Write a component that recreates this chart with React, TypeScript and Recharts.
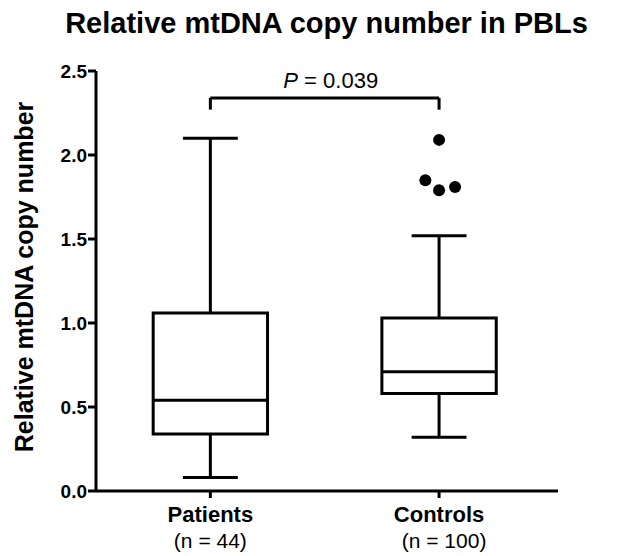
import { ComposedChart, Scatter, XAxis, YAxis, ReferenceArea, ReferenceLine } from "recharts";

// box statistics, one entry per group
const groups = ["Patients", "Controls"];
const groupN = [44, 100];
const whiskerLow = [0.08, 0.32];
const q1 = [0.34, 0.58];
const median = [0.54, 0.71];
const q3 = [1.06, 1.03];
const whiskerHigh = [2.1, 1.52];

// outliers (controls), x carries a small jitter around group 2
const outlierX = [2.0, 1.94, 2.0, 2.07];
const outlierY = [2.09, 1.85, 1.79, 1.81];

const yTicks = [0, 0.5, 1, 1.5, 2, 2.5];
const pValue = "0.039";
const bracketY = 2.34;
const bracketDrop = 0.07;

const FONT = '"Liberation Sans", Arial, Helvetica, sans-serif';
const BOX_HALF = 0.25;
const CAP_HALF = 0.12;
const LINE = { stroke: "#000", strokeWidth: 3 };

const GroupTick = ({ x, y, payload }: any) => {
  const i = Math.round(payload.value) - 1;
  return (
    <g transform={`translate(${x},${y})`} fontFamily={FONT} fill="#000">
      <text textAnchor="middle" dy={22} fontSize={22} fontWeight={700}>
        {groups[i]}
      </text>
      <text textAnchor="middle" dy={48} dx={i === 1 ? 5 : 0} fontSize={21}>
        (n = {groupN[i]})
      </text>
    </g>
  );
};

const YLabel = ({ viewBox }: any) => {
  const cy = viewBox.y + viewBox.height / 2 - 4;
  return (
    <text
      x={33}
      y={cy}
      transform={`rotate(-90, 33, ${cy})`}
      textAnchor="middle"
      fontFamily={FONT}
      fontSize={25}
      fontWeight={700}
      fill="#000"
    >
      Relative mtDNA copy number
    </text>
  );
};

const PLabel = ({ viewBox }: any) => (
  <text
    x={viewBox.x + viewBox.width / 2 + 6}
    y={viewBox.y - 10}
    textAnchor="middle"
    fontFamily={FONT}
    fontSize={22}
    fill="#000"
  >
    <tspan fontStyle="italic">P</tspan> = {pValue}
  </text>
);

export default function App() {
  const outliers = outlierX.map((x, i) => ({ x, y: outlierY[i] }));

  const boxParts = groups.flatMap((_, i) => {
    const x = i + 1;
    return [
      <ReferenceLine key={`wl${i}`} segment={[{ x, y: whiskerLow[i] }, { x, y: q1[i] }]} {...LINE} ifOverflow="visible" />,
      <ReferenceLine key={`wh${i}`} segment={[{ x, y: q3[i] }, { x, y: whiskerHigh[i] }]} {...LINE} ifOverflow="visible" />,
      <ReferenceLine key={`cl${i}`} segment={[{ x: x - CAP_HALF, y: whiskerLow[i] }, { x: x + CAP_HALF, y: whiskerLow[i] }]} {...LINE} ifOverflow="visible" />,
      <ReferenceLine key={`ch${i}`} segment={[{ x: x - CAP_HALF, y: whiskerHigh[i] }, { x: x + CAP_HALF, y: whiskerHigh[i] }]} {...LINE} ifOverflow="visible" />,
      <ReferenceArea key={`b${i}`} x1={x - BOX_HALF} x2={x + BOX_HALF} y1={q1[i]} y2={q3[i]} fill="#fff" fillOpacity={1} {...LINE} ifOverflow="visible" />,
      <ReferenceLine key={`m${i}`} segment={[{ x: x - BOX_HALF, y: median[i] }, { x: x + BOX_HALF, y: median[i] }]} {...LINE} ifOverflow="visible" />,
    ];
  });

  return (
    <div style={{ position: "absolute", left: 0, top: 0, width: 623, height: 556, background: "#fff", fontFamily: FONT }}>
      <div
        style={{
          position: "absolute",
          left: 15,
          top: 9,
          width: 623,
          textAlign: "center",
          fontSize: 29,
          lineHeight: "29px",
          fontWeight: 700,
          color: "#000",
        }}
      >
        Relative mtDNA copy number in PBLs
      </div>
      <ComposedChart width={623} height={556} data={outliers} margin={{ top: 71, right: 65, bottom: 0, left: 0 }}>
        <XAxis
          type="number"
          dataKey="x"
          domain={[0.5, 2.52]}
          ticks={[1, 2]}
          height={65}
          tickSize={7}
          axisLine={LINE}
          tickLine={LINE}
          tick={<GroupTick />}
          allowDataOverflow
        />
        <YAxis
          type="number"
          dataKey="y"
          domain={[0, 2.5]}
          ticks={yTicks}
          width={96}
          tickSize={8}
          tickMargin={1}
          axisLine={LINE}
          tickLine={LINE}
          tickFormatter={(v: number) => v.toFixed(1)}
          tick={{ fill: "#000", fontSize: 19, fontWeight: 700, fontFamily: FONT }}
          label={{ content: <YLabel /> }}
          allowDataOverflow
        />
        {boxParts}
        <ReferenceLine segment={[{ x: 1, y: bracketY }, { x: 2, y: bracketY }]} {...LINE} ifOverflow="visible" label={{ content: <PLabel /> }} />
        <ReferenceLine segment={[{ x: 1, y: bracketY - bracketDrop }, { x: 1, y: bracketY }]} {...LINE} ifOverflow="visible" />
        <ReferenceLine segment={[{ x: 2, y: bracketY - bracketDrop }, { x: 2, y: bracketY }]} {...LINE} ifOverflow="visible" />
        <Scatter
          data={outliers}
          dataKey="y"
          fill="#000"
          isAnimationActive={false}
          shape={(p: any) => <circle cx={p.cx} cy={p.cy} r={6} fill="#000" />}
        />
      </ComposedChart>
    </div>
  );
}
